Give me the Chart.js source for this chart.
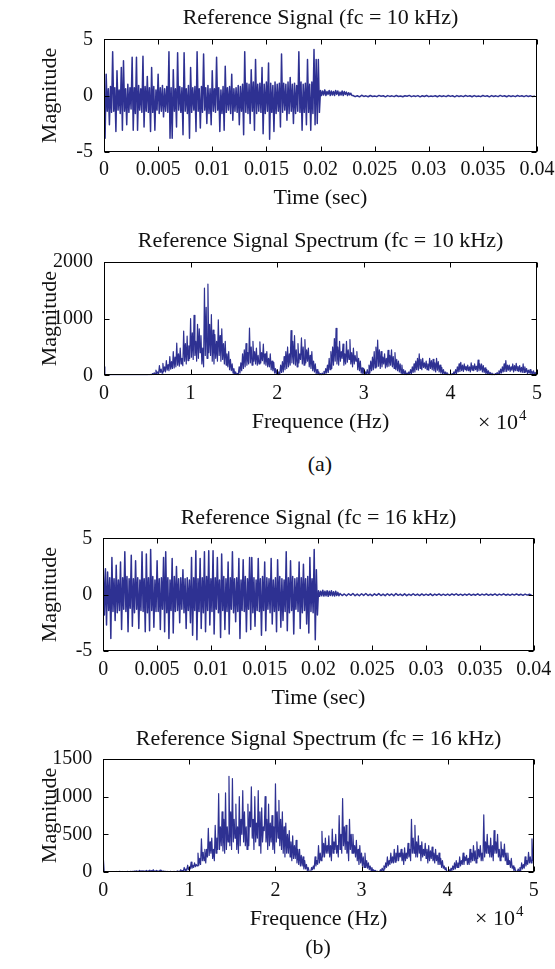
<!DOCTYPE html>
<html><head><meta charset="utf-8">
<script src="https://cdn.jsdelivr.net/npm/chart.js@4.4.1/dist/chart.umd.min.js"></script>
<style>
html,body{margin:0;padding:0;background:#fff;}
body{width:555px;height:969px;position:relative;overflow:hidden;font-family:"Liberation Serif","Times New Roman",serif;color:#111;}
canvas{position:absolute;left:0;}
.lbl{position:absolute;font-size:22px;line-height:22px;white-space:nowrap;color:#111;}
.sup{font-size:15px;position:relative;top:-9px;margin-left:1px;}
</style></head><body>
<canvas id="c1" width="555" height="222" style="top:0px"></canvas>
<canvas id="c2" width="555" height="224" style="top:222px"></canvas>
<canvas id="c3" width="555" height="231" style="top:490px"></canvas>
<canvas id="c4" width="555" height="221" style="top:721px"></canvas>
<div class="lbl" style="left:270px;width:100px;text-align:center;top:453px;">(a)</div>
<div class="lbl" style="left:268px;width:100px;text-align:center;top:936px;">(b)</div>
<div class="lbl" style="left:478px;top:411px;">× 10<span class="sup">4</span></div>
<div class="lbl" style="left:475px;top:907px;">× 10<span class="sup">4</span></div>
<script>
// ---- tick values / labels ----
const timeTickValues = [0,0.005,0.01,0.015,0.02,0.025,0.03,0.035,0.04];
const timeTickLabels = ['0','0.005','0.01','0.015','0.02','0.025','0.03','0.035','0.04'];
const freqTickValues = [0,10000,20000,30000,40000,50000];
const freqTickLabels = ['0','1','2','3','4','5'];
const sigTickValues = [-5,0,5];
const sigTickLabels = ['-5','0','5'];
const spec10TickValues = [0,1000,2000];
const spec10TickLabels = ['0','1000','2000'];
const spec16TickValues = [0,500,1000,1500];
const spec16TickLabels = ['0','500','1000','1500'];

// ---- sampling ----
const fineStep = 0.0001;     // s, active part (0 .. 0.0199) and settling part after 0.02
const settleStart = 0.02;    // s
const tailStep = 0.0002;     // s, residual part
const sig10TailStart = 0.023;
const sig16TailStart = 0.022;
const specStep = 100;        // Hz

// ---- reference signal fc = 10 kHz ----
const sig10Active = [
0.3,-3.8,1.9,-1.4,0.6,-2.6,0.8,-1.5,3.9,-1.4,
0.7,-3.2,2.2,-1.3,0.5,-1.6,2.5,-3.1,3.1,-1.4,
0.6,-2.6,1.0,-1.5,0.7,-1.2,3.4,-3.1,0.7,-1.6,
3.4,-3.1,0.9,-1.3,0.6,-1.5,3.5,-2.8,0.8,-1.4,
1.7,-1.5,0.7,-3.2,2.5,-1.5,0.8,-3.1,0.5,-1.3,
1.9,-1.6,0.7,-1.4,0.9,-1.9,0.6,-1.4,0.8,-1.5,
3.9,-3.8,0.7,-3.8,2.3,-1.4,0.6,-2.8,3.8,-1.3,
0.8,-1.5,0.7,-3.5,3.8,-1.4,0.6,-1.6,0.9,-3.8,
2.5,-1.5,0.7,-1.3,0.8,-3.2,3.9,-1.4,0.6,-2.9,
0.8,-1.5,3.7,-1.3,0.7,-2.5,0.9,-1.6,0.6,-2.6,
2.2,-1.4,0.6,-1.5,3.4,-1.3,0.7,-3.2,0.5,-1.6,
0.8,-3.1,2.6,-1.5,0.7,-1.3,0.8,-1.6,1.9,-2.2,
0.6,-1.4,0.7,-1.5,0.9,-2.6,0.8,-1.4,1.0,-3.5,
3.9,-1.5,1.1,-1.6,1.0,-2.5,2.3,-1.4,1.2,-3.1,
3.2,-1.6,1.0,-1.4,1.1,-1.5,2.5,-3.4,1.0,-1.6,
1.2,-1.4,2.9,-3.9,1.1,-1.5,0.9,-3.2,1.2,-1.6,
1.0,-1.4,1.1,-2.8,3.7,-1.5,1.1,-1.3,1.0,-2.2,
1.2,-1.6,1.6,-1.4,1.0,-2.5,1.1,-1.6,0.9,-1.4,
3.9,-1.5,1.2,-3.1,1.0,-1.5,1.1,-2.6,3.2,-1.5,
1.0,-3.1,1.2,-1.6,4.1,-2.6,3.2,-2.5,3.2,-1.5
];
const sig10Settle = [
0.45,0.0,0.4,0.05,0.5,0.0,0.35,0.1,0.45,0.0,
0.4,0.05,0.35,0.0,0.45,0.1,0.4,0.0,0.3,0.05,
0.4,0.0,0.35,0.1,0.3,0.0,0.25,0.05,0.2,0.0
];
const sig10Tail = [
0.0,-0.1,-0.02,-0.12,0.02,-0.08,-0.03,-0.11,0.0,-0.09,
-0.04,-0.1,0.01,-0.07,-0.02,-0.12,-0.01,-0.08,-0.03,-0.1,
0.0,-0.09,-0.04,-0.11,-0.02,-0.07,0.01,-0.1,-0.03,-0.08,
-0.01,-0.12,-0.02,-0.09,0.0,-0.1,-0.04,-0.08,-0.02,-0.11,
-0.01,-0.09,-0.03,-0.1,0.0,-0.08,-0.02,-0.12,-0.01,-0.09,
-0.03,-0.1,0.0,-0.08,-0.02,-0.11,-0.01,-0.09,-0.04,-0.1,
0.0,-0.08,-0.02,-0.12,-0.01,-0.09,-0.03,-0.1,0.01,-0.08,
-0.02,-0.11,-0.01,-0.09,-0.03,-0.1,0.0,-0.08,-0.02,-0.1,
-0.01,-0.09,-0.03,-0.1,-0.05
];
// ---- spectrum fc = 10 kHz (100 Hz bins) ----
const spec10 = [
150,8,3,5,2,6,4,3,5,2,4,6,3,5,2,4,3,6,2,5,
4,2,5,3,6,2,4,3,5,2,3,6,2,4,3,5,2,4,6,3,
5,2,4,6,3,5,2,6,4,8,3,7,10,5,15,8,30,12,45,20,
90,30,60,25,170,50,110,40,210,70,150,60,260,90,190,80,330,110,240,120,
420,130,320,150,570,180,380,160,480,200,300,170,780,250,560,200,690,260,520,300,
1000,320,750,280,1060,350,600,250,900,300,820,400,700,200,480,150,1540,350,1200,300,
1610,400,900,350,1070,250,800,200,720,300,600,250,980,350,700,250,820,280,560,200,
600,180,380,150,420,100,280,80,200,40,120,20,60,10,30,5,150,40,220,80,
380,120,450,150,560,180,400,200,835,220,500,180,600,250,420,200,480,180,350,200,
590,220,400,260,550,200,380,180,420,150,300,150,380,100,250,80,230,40,120,20,
100,10,60,20,180,50,240,60,330,100,420,120,500,150,380,180,790,220,600,200,
700,180,450,150,560,220,380,280,660,200,500,180,630,220,450,250,480,150,350,120,
420,80,250,60,200,30,100,20,60,5,30,3,40,10,70,20,120,40,180,50,
300,100,420,120,500,180,650,250,830,200,500,180,600,250,420,300,550,180,380,200,
600,230,450,280,630,200,400,150,480,200,350,250,420,100,300,80,250,40,130,20,
120,10,60,15,100,30,180,40,250,80,320,100,420,130,500,150,620,160,450,120,
420,150,320,200,380,130,300,150,440,160,350,180,450,150,330,120,400,100,280,80,
250,60,200,40,180,20,100,10,80,5,40,10,60,20,100,30,150,50,200,60,
250,100,300,90,380,120,280,100,300,140,220,120,250,100,200,90,300,120,260,100,
280,80,220,60,300,90,240,60,180,40,140,30,100,15,60,10,50,5,20,3,
20,5,30,10,60,20,100,30,150,60,200,70,230,80,180,70,200,100,160,80,
180,80,150,60,220,90,170,80,200,100,160,70,270,80,200,90,200,60,170,50,
130,30,100,20,80,10,50,5,40,5,20,3,30,10,50,15,80,30,110,40,
150,60,200,70,260,70,180,90,180,70,150,90,200,60,170,80,210,80,160,70,
170,60,140,50,200,50,150,60,120,30,90,40,100,20,70,25,80,10,50,15,
30
];
// ---- reference signal fc = 16 kHz ----
const sig16Active = [
2.2,-1.8,2.3,-2.7,2.0,-1.4,1.5,-3.9,3.3,-1.5,
1.4,-2.3,2.6,-1.6,1.3,-1.4,2.9,-3.1,1.5,-1.3,
3.8,-1.5,1.6,-3.3,1.4,-1.2,3.5,-2.8,1.4,-1.6,
3.0,-1.3,1.5,-3.0,1.3,-1.4,3.8,-1.5,1.4,-3.3,
3.6,-1.6,1.5,-3.2,4.0,-1.4,1.6,-2.9,1.3,-1.5,
3.0,-1.5,1.4,-3.1,1.5,-1.3,3.3,-3.3,3.8,-1.6,
1.5,-3.9,1.3,-1.4,3.2,-3.4,1.6,-1.5,2.5,-1.4,
1.4,-2.5,1.5,-1.3,2.2,-1.6,1.4,-3.0,1.5,-1.4,
1.3,-2.5,3.3,-3.6,1.5,-1.4,3.9,-4.0,1.4,-1.5,
3.2,-3.0,1.5,-1.6,3.8,-3.3,1.6,-1.4,3.9,-2.7,
1.4,-1.5,3.9,-3.5,1.5,-1.3,3.3,-1.6,1.3,-3.8,
3.6,-1.4,1.6,-3.1,1.4,-1.5,2.9,-3.5,1.5,-1.3,
3.8,-1.6,1.4,-2.4,1.5,-1.5,3.2,-3.9,1.3,-1.4,
3.1,-1.5,1.6,-3.3,1.4,-1.3,3.3,-3.1,3.3,-1.6,
1.5,-2.8,1.3,-1.4,3.2,-1.5,1.4,-3.6,1.6,-1.4,
2.9,-3.2,1.5,-1.3,1.4,-1.6,3.2,-2.6,1.3,-1.5,
1.5,-3.3,3.1,-1.4,1.6,-2.9,1.4,-2.3,1.3,-1.5,
3.8,-3.2,1.5,-1.6,3.0,-1.4,1.6,-3.5,1.4,-1.3,
1.5,-1.5,2.9,-3.0,1.5,-1.6,2.7,-1.4,1.4,-2.6,
1.6,-3.4,3.3,-1.5,1.4,-1.6,4.0,-4.0,2.2,-1.8
];
const sig16Settle = [
0.35,-0.15,0.3,-0.1,0.4,-0.12,0.3,-0.1,0.35,-0.15,
0.3,-0.08,0.35,-0.1,0.25,-0.12,0.3,-0.08,0.2,-0.1
];
const sig16Tail = [
0.1,-0.08,0.06,-0.1,0.08,-0.06,0.1,-0.09,0.05,-0.1,
0.08,-0.07,0.1,-0.08,0.04,-0.1,0.07,-0.06,0.09,-0.08,
0.05,-0.09,0.08,-0.07,0.06,-0.1,0.1,-0.06,0.05,-0.08,
0.07,-0.09,0.04,-0.07,0.08,-0.06,0.05,-0.08,0.06,-0.07,
0.04,-0.06,0.07,-0.08,0.05,-0.05,0.06,-0.07,0.04,-0.06,
0.05,-0.07,0.06,-0.05,0.08,-0.06,0.04,-0.07,0.05,-0.05,
0.06,-0.06,0.04,-0.05,0.07,-0.06,0.05,-0.04,0.06,-0.06,
0.04,-0.05,0.06,-0.07,0.05,-0.04,0.07,-0.05,0.04,-0.06,
0.05,-0.04,0.06,-0.05,0.04,-0.06,0.05,-0.04,0.03,-0.05
];
// ---- spectrum fc = 16 kHz (100 Hz bins) ----
const spec16 = [
190,10,4,6,3,5,2,6,4,3,5,2,6,3,4,7,3,5,4,8,
5,3,7,4,6,3,5,4,8,3,6,5,10,4,8,6,12,5,15,8,
10,6,22,8,15,10,18,7,12,6,20,8,14,10,25,9,18,12,30,10,
15,8,20,10,12,8,25,10,15,6,12,5,10,4,8,3,6,4,8,3,
5,3,10,4,6,5,15,6,10,8,30,10,20,15,60,20,40,25,90,30,
60,40,130,50,90,60,120,70,100,80,250,90,180,100,440,150,260,150,300,120,
300,200,580,220,400,250,450,180,300,150,620,250,450,300,1040,300,600,350,800,280,
700,250,1050,300,600,400,1270,350,800,300,1240,400,700,450,900,300,600,250,1000,350,
700,500,1080,400,800,350,600,300,900,350,800,600,1130,450,700,300,1000,400,650,450,
1080,350,800,250,850,400,600,550,1000,400,700,300,900,350,650,400,750,300,600,250,
1170,400,800,450,950,350,700,300,800,250,600,200,650,250,500,250,550,200,400,150,
480,180,350,180,420,120,300,100,300,80,220,80,200,40,150,40,100,20,60,10,
10,5,60,30,80,40,200,80,150,100,350,120,250,150,540,200,380,200,450,250,
350,250,480,200,350,150,570,250,400,300,500,250,350,200,750,300,500,250,975,350,
600,300,620,250,400,150,700,300,500,250,500,250,350,200,420,150,300,100,350,120,
250,80,200,60,250,60,150,50,120,30,80,20,60,15,30,10,20,5,10,3,
5,3,30,10,50,20,80,40,120,60,200,80,150,100,250,120,200,120,300,130,
250,150,350,150,250,200,300,150,250,100,320,150,250,180,380,200,300,150,700,250,
450,250,620,200,400,200,480,250,350,150,400,200,300,220,380,180,300,120,350,150,
280,180,330,150,250,120,300,150,220,100,250,100,180,60,150,50,80,30,60,10,
5,3,30,10,50,20,80,30,120,40,150,60,120,60,200,80,150,100,250,100,
200,150,220,100,180,100,300,130,250,150,350,150,280,120,400,180,300,200,350,150,
250,150,760,200,400,250,500,250,350,200,450,200,350,150,550,250,400,250,500,200,
300,150,400,200,300,200,370,150,250,100,250,100,150,60,180,50,80,20,60,10,
10,5,40,15,60,20,120,40,100,50,200,80,150,100,260,120,200,120,440,150,
200
];

// ---- styling ----
const FONT = "'Liberation Serif','Times New Roman',serif";
const TXT = '#111';
const LINE = '#2E3192';

function timePoints(active, settle, tail, tailStart) {
  const pts = active.map((v, i) => ({x: i * fineStep, y: v}));
  settle.forEach((v, j) => pts.push({x: settleStart + j * fineStep, y: v}));
  tail.forEach((v, j) => pts.push({x: tailStart + j * tailStep, y: v}));
  return pts;
}
function specPoints(arr) { return arr.map((v, k) => ({x: k * specStep, y: v})); }

const framePlugin = {
  id: 'frame',
  afterDatasetsDraw(chart) {
    const {ctx, chartArea: a, scales: {x, y}} = chart;
    const l = Math.round(a.left) + 0.5, r = Math.round(a.right) - 0.5;
    const t = Math.round(a.top) + 0.5, b = Math.round(a.bottom) - 0.5;
    const L = 5;
    ctx.save();
    ctx.strokeStyle = '#000';
    ctx.lineWidth = 1;
    ctx.strokeRect(l, t, r - l, b - t);
    ctx.beginPath();
    x.ticks.forEach(tk => {
      const px = Math.round(x.getPixelForValue(tk.value)) + 0.5;
      ctx.moveTo(px, b); ctx.lineTo(px, b - L);
      ctx.moveTo(px, t); ctx.lineTo(px, t + L);
    });
    y.ticks.forEach(tk => {
      const py = Math.round(y.getPixelForValue(tk.value)) + 0.5;
      ctx.moveTo(l, py); ctx.lineTo(l + L, py);
      ctx.moveTo(r, py); ctx.lineTo(r - L, py);
    });
    ctx.stroke();
    ctx.restore();
  }
};

function build(id, c) {
  return new Chart(document.getElementById(id), {
    type: 'line',
    data: {datasets: [{data: c.points, borderColor: LINE, borderWidth: c.lw, pointRadius: 0,
      tension: 0, fill: false, borderJoinStyle: 'round'}]},
    options: {
      responsive: false, animation: false, events: [],
      layout: {padding: {top: c.pt, right: c.pr, bottom: c.pb, left: 0}},
      plugins: {
        legend: {display: false}, tooltip: {enabled: false},
        title: {display: true, text: c.title, fullSize: false, color: TXT,
          font: {family: FONT, size: 22, weight: 'normal', lineHeight: 1.2},
          padding: {top: 0, bottom: c.tb}}
      },
      scales: {
        x: {type: 'linear', min: c.xmin, max: c.xmax,
          grid: {display: false, drawTicks: false}, border: {display: false},
          afterBuildTicks: s => { s.ticks = c.xTicks.map(v => ({value: v})); },
          ticks: {autoSkip: false, maxRotation: 0, minRotation: 0, padding: 6.5, color: TXT,
            font: {family: FONT, size: 20, lineHeight: 1.2}, callback: (v, i) => c.xLabels[i]},
          title: {display: true, text: c.xTitle, color: TXT,
            font: {family: FONT, size: 22, lineHeight: 1.2}, padding: {top: 0, bottom: 9.8}},
          afterFit: s => { s.height = 70; s.paddingLeft = 0; s.paddingRight = 0; }
        },
        y: {type: 'linear', min: c.ymin, max: c.ymax,
          grid: {display: false, drawTicks: false}, border: {display: false},
          afterBuildTicks: s => { s.ticks = c.yTicks.map(v => ({value: v})); },
          ticks: {autoSkip: false, padding: 11, color: TXT,
            font: {family: FONT, size: 20, lineHeight: 1.2}, callback: (v, i) => c.yLabels[i]},
          title: {display: true, text: 'Magnitude', color: TXT,
            font: {family: FONT, size: 22, lineHeight: 1.2}, padding: {top: 36.8, bottom: 0}},
          afterFit: s => { s.width = c.yw; s.paddingTop = 0; s.paddingBottom = 0; }
        }
      }
    },
    plugins: [framePlugin]
  });
}

build('c1', {points: timePoints(sig10Active, sig10Settle, sig10Tail, sig10TailStart),
  title: 'Reference Signal (fc = 10 kHz)',
  xmin: 0, xmax: 0.04, xTicks: timeTickValues, xLabels: timeTickLabels, xTitle: 'Time (sec)',
  ymin: -5, ymax: 5, yTicks: sigTickValues, yLabels: sigTickLabels, lw: 1.5,
  pt: 4.8, tb: 8.1, pb: 0.3, pr: 18, yw: 104});
build('c2', {points: specPoints(spec10), title: 'Reference Signal Spectrum (fc = 10 kHz)',
  xmin: 0, xmax: 50000, xTicks: freqTickValues, xLabels: freqTickLabels, xTitle: 'Frequence (Hz)',
  ymin: 0, ymax: 2000, yTicks: spec10TickValues, yLabels: spec10TickLabels, lw: 1.2,
  pt: 6.3, tb: 7.3, pb: 0.7, pr: 18, yw: 104});
build('c3', {points: timePoints(sig16Active, sig16Settle, sig16Tail, sig16TailStart),
  title: 'Reference Signal (fc = 16 kHz)',
  xmin: 0, xmax: 0.04, xTicks: timeTickValues, xLabels: timeTickLabels, xTitle: 'Time (sec)',
  ymin: -5, ymax: 5, yTicks: sigTickValues, yLabels: sigTickLabels, lw: 1.5,
  pt: 15.4, tb: 6.5, pb: 0, pr: 21.3, yw: 103.3});
build('c4', {points: specPoints(spec16), title: 'Reference Signal Spectrum (fc = 16 kHz)',
  xmin: 0, xmax: 50000, xTicks: freqTickValues, xLabels: freqTickLabels, xTitle: 'Frequence (Hz)',
  ymin: 0, ymax: 1500, yTicks: spec16TickValues, yLabels: spec16TickLabels, lw: 1.2,
  pt: 5.2, tb: 6.4, pb: 0, pr: 21.3, yw: 103.3});
</script>
</body></html>
